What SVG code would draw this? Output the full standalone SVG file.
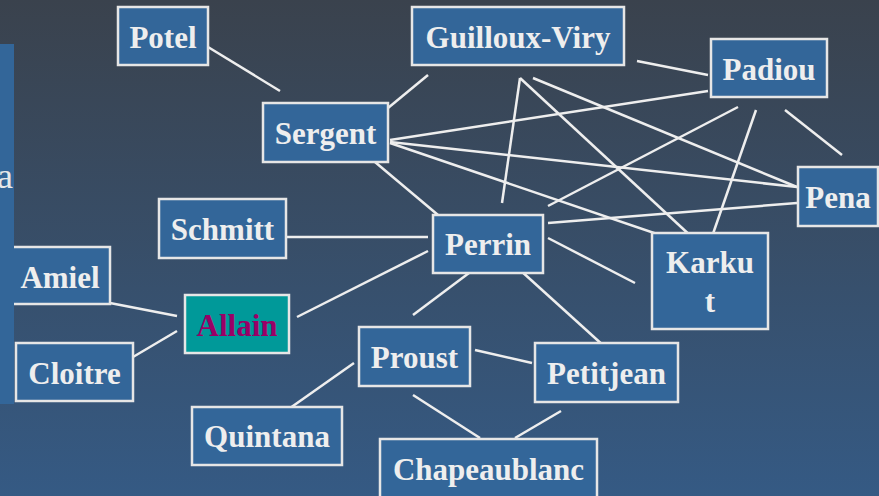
<svg xmlns="http://www.w3.org/2000/svg" width="879" height="496" viewBox="0 0 879 496">
<defs>
<linearGradient id="bg" x1="0" y1="0" x2="0" y2="1">
<stop offset="0" stop-color="#3a424d"/>
<stop offset="1" stop-color="#355a84"/>
</linearGradient>
</defs>
<style>
.box{fill:#336699;stroke:#e6e6e6;stroke-width:2.5}
.lbl{font-family:"Liberation Serif","Times New Roman",serif;font-weight:bold;font-size:31px;fill:#eeeeee;text-anchor:middle}
.edge{stroke:#eeeeee;stroke-width:2.5;fill:none}
</style>
<rect width="879" height="496" fill="url(#bg)"/>

<g id="connectors">
<line class="edge" x1="208" y1="47" x2="280" y2="91"/>
<line class="edge" x1="388" y1="108" x2="428" y2="75"/>
<line class="edge" x1="390" y1="140" x2="708" y2="91"/>
<line class="edge" x1="390" y1="142" x2="797" y2="187"/>
<line class="edge" x1="390" y1="143" x2="707" y2="251"/>
<line class="edge" x1="375" y1="162" x2="438" y2="215"/>
<line class="edge" x1="520" y1="78" x2="502" y2="203"/>
<line class="edge" x1="520" y1="78" x2="707" y2="251"/>
<line class="edge" x1="533" y1="78" x2="797" y2="187"/>
<line class="edge" x1="637" y1="61" x2="708" y2="75"/>
<line class="edge" x1="738" y1="107" x2="548" y2="206"/>
<line class="edge" x1="756" y1="110" x2="707" y2="251"/>
<line class="edge" x1="785" y1="110" x2="842" y2="155"/>
<line class="edge" x1="797" y1="203" x2="548" y2="223"/>
<line class="edge" x1="548" y1="238" x2="635" y2="283"/>
<line class="edge" x1="285" y1="237" x2="428" y2="237"/>
<line class="edge" x1="297" y1="317" x2="428" y2="251"/>
<line class="edge" x1="110" y1="303" x2="177" y2="316"/>
<line class="edge" x1="133" y1="357" x2="177" y2="331"/>
<line class="edge" x1="473" y1="270" x2="413" y2="315"/>
<line class="edge" x1="520" y1="270" x2="605" y2="347"/>
<line class="edge" x1="475" y1="350" x2="532" y2="363"/>
<line class="edge" x1="354" y1="363" x2="283" y2="413"/>
<line class="edge" x1="413" y1="395" x2="480" y2="438"/>
<line class="edge" x1="561" y1="411" x2="515" y2="438"/>
</g>

<g id="Potel"><rect class="box" x="118" y="7" width="90" height="58"/><text class="lbl" x="163" y="48">Potel</text></g>
<g id="GuillouxViry"><rect class="box" x="412" y="7" width="212" height="58"/><text class="lbl" x="518" y="48">Guilloux-Viry</text></g>
<g id="Padiou"><rect class="box" x="711" y="39" width="116" height="58"/><text class="lbl" x="769" y="80">Padiou</text></g>
<g id="Sergent"><rect class="box" x="263" y="103" width="125" height="59"/><text class="lbl" x="325.5" y="144">Sergent</text></g>
<g id="Pena"><rect class="box" x="798" y="167" width="80" height="59"/><text class="lbl" x="838" y="208">Pena</text></g>
<g id="Schmitt"><rect class="box" x="159" y="199" width="127" height="59"/><text class="lbl" x="222.5" y="240">Schmitt</text></g>
<g id="Perrin"><rect class="box" x="433" y="215" width="110" height="58"/><text class="lbl" x="488" y="255">Perrin</text></g>
<g id="Karkut"><rect class="box" x="652" y="233" width="116" height="96"/><text class="lbl" x="710" y="273">Karku</text><text class="lbl" x="710" y="312">t</text></g>
<g id="Amiel"><rect class="box" x="6" y="247" width="104" height="57"/><text class="lbl" x="60" y="288">Amiel</text></g>
<g id="Allain"><rect x="185" y="295" width="104" height="58" fill="#009999" stroke="#e6e6e6" stroke-width="2.5"/><text class="lbl" x="237" y="336" style="fill:#990066">Allain</text></g>
<g id="Cloitre"><rect class="box" x="16" y="343" width="117" height="58"/><text class="lbl" x="74.5" y="384">Cloitre</text></g>
<g id="Proust"><rect class="box" x="359" y="327" width="111" height="59"/><text class="lbl" x="414.5" y="368">Proust</text></g>
<g id="Petitjean"><rect class="box" x="535" y="343" width="143" height="59"/><text class="lbl" x="606.5" y="384">Petitjean</text></g>
<g id="Quintana"><rect class="box" x="192" y="407" width="150" height="58"/><text class="lbl" x="267" y="447">Quintana</text></g>
<g id="Chapeaublanc"><rect class="box" x="380" y="439" width="217" height="60"/><text class="lbl" x="488.5" y="480">Chapeaublanc</text></g>

<g id="leftPanel">
<rect x="0" y="44" width="14" height="360" fill="#336699"/>
<text x="-3" y="188" font-family="'Liberation Serif','Times New Roman',serif" font-size="36" fill="#e8e8e8">a</text>
</g>
</svg>
